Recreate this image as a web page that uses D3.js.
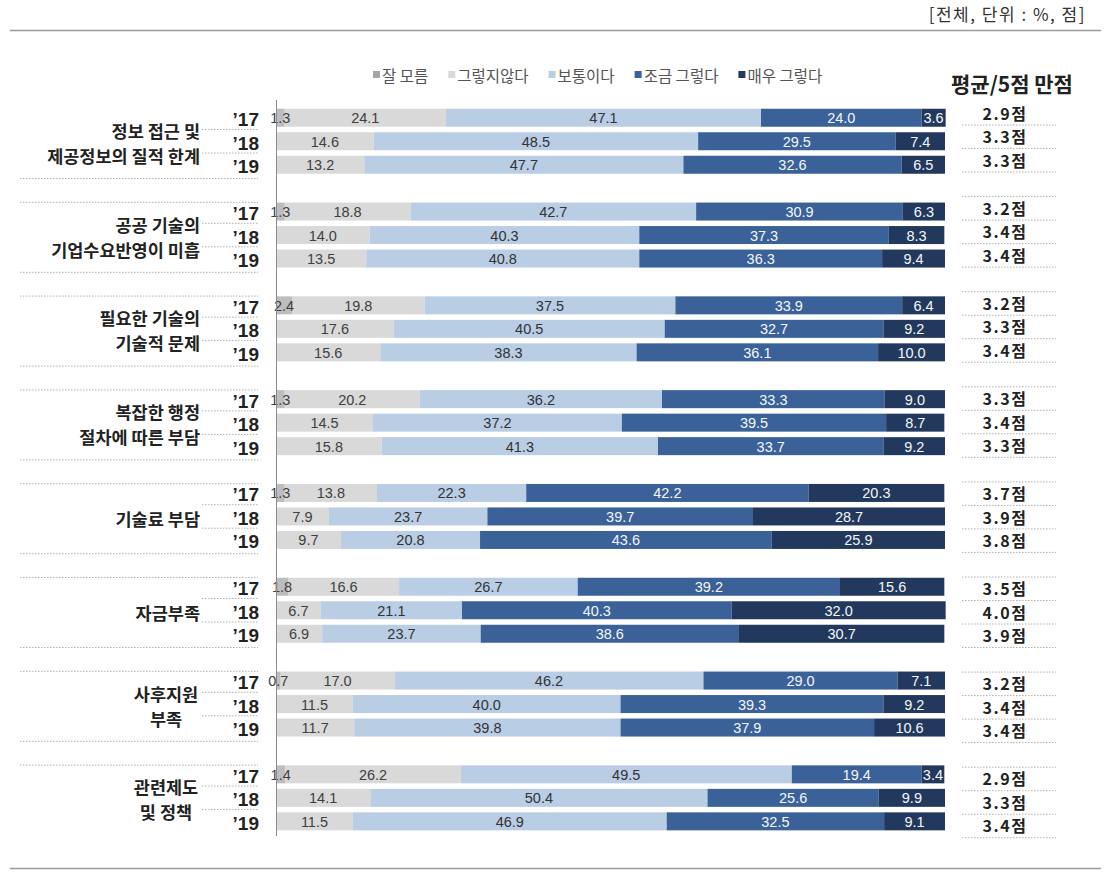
<!DOCTYPE html>
<html><head><meta charset="utf-8">
<script src="https://cdn.jsdelivr.net/npm/d3@7"></script>
<style>
body{margin:0;background:#fff;}
svg{display:block;}
</style></head>
<body><svg id="c" width="1109" height="879"></svg>
<script>
const categories = ["정보 접근 및\n제공정보의 질적 한계","공공 기술의\n기업수요반영이 미흡","필요한 기술의\n기술적 문제","복잡한 행정\n절차에 따른 부담","기술료 부담","자금부족","사후지원\n부족","관련제도\n및 정책"];
const years = ["’17","’18","’19"];
const seriesNames = ["잘 모름","그렇지않다","보통이다","조금 그렇다","매우 그렇다"];
const dontKnow = [[1.3,0,0],[1.3,0,0],[2.4,0,0],[1.3,0,0],[1.3,0,0],[1.8,0,0],[0.7,0,0],[1.4,0,0]];
const disagree = [[24.1,14.6,13.2],[18.8,14.0,13.5],[19.8,17.6,15.6],[20.2,14.5,15.8],[13.8,7.9,9.7],[16.6,6.7,6.9],[17.0,11.5,11.7],[26.2,14.1,11.5]];
const neutral = [[47.1,48.5,47.7],[42.7,40.3,40.8],[37.5,40.5,38.3],[36.2,37.2,41.3],[22.3,23.7,20.8],[26.7,21.1,23.7],[46.2,40.0,39.8],[49.5,50.4,46.9]];
const somewhat = [[24.0,29.5,32.6],[30.9,37.3,36.3],[33.9,32.7,36.1],[33.3,39.5,33.7],[42.2,39.7,43.6],[39.2,40.3,38.6],[29.0,39.3,37.9],[19.4,25.6,32.5]];
const very = [[3.6,7.4,6.5],[6.3,8.3,9.4],[6.4,9.2,10.0],[9.0,8.7,9.2],[20.3,28.7,25.9],[15.6,32.0,30.7],[7.1,9.2,10.6],[3.4,9.9,9.1]];
const scores = [[2.9,3.3,3.3],[3.2,3.4,3.4],[3.2,3.3,3.4],[3.3,3.4,3.3],[3.7,3.9,3.8],[3.5,4.0,3.9],[3.2,3.4,3.4],[2.9,3.3,3.4]];
const unitText = "[전체, 단위 : %, 점]";
const scoreHeader = "평균/5점 만점";

const seriesData = [dontKnow, disagree, neutral, somewhat, very];
const colors = ["#bdbdbd","#d9d9d9","#b9cde5","#3a6198","#22395d"];
const textColors = ["#404040","#404040","#333","#f4f6fa","#f4f6fa"];
const centered = new Set([6,7]);

const svg = d3.select("#c");
const KR = "'Noto Sans CJK KR','Noto Sans',sans-serif";
const AR = "'Liberation Sans',Arial,sans-serif";

const rows = [];
categories.forEach((c,gi)=>years.forEach((y,yi)=>{
  const r = {cat:c, gi, year:y, yi, score:scores[gi][yi]};
  seriesNames.forEach((s,si)=>r[s]=seriesData[si][gi][yi]);
  rows.push(r);
}));
const stacked = d3.stack().keys(seriesNames)(rows);

const x = d3.scaleLinear().domain([0,100]).range([276,945]);
const outer = d3.scaleBand().domain(categories).range([106,106+8*93.8]);
const inner = d3.scaleBand().domain(years).range([0,70.5]).paddingInner(0.234).paddingOuter(0.117);
const outerR = d3.scaleBand().domain(categories).range([101,101+8*95.1]);
const rowTop = d=>outer(d.cat)+inner(d.year);
const bw = inner.bandwidth();

svg.append("line").attr("x1",10).attr("x2",1101).attr("y1",30.5).attr("y2",30.5).attr("stroke","#9a9a9a").attr("stroke-width",1.5);
svg.append("line").attr("x1",10).attr("x2",1101).attr("y1",868.5).attr("y2",868.5).attr("stroke","#9a9a9a").attr("stroke-width",1.5);
svg.append("text").attr("x",1086).attr("y",13).attr("text-anchor","end").attr("dominant-baseline","central")
  .attr("font-family",KR).attr("font-size",17).attr("letter-spacing",1.5).attr("fill","#333").text(unitText);

const dot = svg.append("g").attr("stroke","#b0b0b0").attr("stroke-width",1).attr("stroke-dasharray","1.5,1.5");
categories.forEach((c,gi)=>{
  const o = outer(c);
  if(gi>0) dot.append("line").attr("x1",20).attr("x2",258).attr("y1",o+2.5).attr("y2",o+2.5);
  if(gi<categories.length-1) dot.append("line").attr("x1",20).attr("x2",258).attr("y1",o+72.5).attr("y2",o+72.5);
  [1,2].forEach(k=>{
    const yy = o+inner.step()*k+inner.paddingOuter()*inner.step()-inner.paddingInner()*inner.step()/2;
    dot.append("line").attr("x1",202).attr("x2",258).attr("y1",yy).attr("y2",yy);
  });
  const oR = outerR(c);
  if(gi>0) dot.append("line").attr("x1",962).attr("x2",1056).attr("y1",oR+0.5).attr("y2",oR+0.5);
  [1,2,3].forEach(k=>{
    const yy = oR+inner.step()*k+0.5;
    dot.append("line").attr("x1",962).attr("x2",1056).attr("y1",yy).attr("y2",yy);
  });
});

const layer = svg.append("g").selectAll("g").data(stacked).join("g").attr("fill",(d,i)=>colors[i]);
layer.selectAll("rect").data(d=>d).join("rect")
  .attr("x",d=>x(d[0])).attr("width",d=>Math.max(0,x(d[1])-x(d[0])))
  .attr("y",d=>rowTop(d.data)).attr("height",bw);

const lab = svg.append("g").attr("font-family",AR).attr("font-size",14.5).attr("text-anchor","middle");
stacked.forEach((s,si)=>{
  lab.selectAll(null).data(s.filter(d=>d[1]-d[0]>0)).join("text")
    .attr("x",d=>(x(d[0])+x(d[1]))/2).attr("y",d=>rowTop(d.data)+bw/2+0.5)
    .attr("dominant-baseline","central").attr("fill",textColors[si])
    .text(d=>d3.format(".1f")(d[1]-d[0]));
});

svg.append("line").attr("x1",276.5).attr("x2",276.5).attr("y1",100).attr("y2",836).attr("stroke","#8c8c8c").attr("stroke-width",1);

svg.append("g").selectAll("text").data(rows).join("text")
  .attr("x",259).attr("y",d=>rowTop(d)+bw/2+2).attr("text-anchor","end").attr("dominant-baseline","central")
  .attr("font-family",AR).attr("font-weight","bold").attr("font-size",19).attr("fill","#222").text(d=>d.year);

categories.forEach((c,gi)=>{
  const lines = c.split("\n");
  const mid = outer(c)+inner(years[1])+bw/2;
  const ys = lines.length===2 ? [mid-11, mid+14] : [mid+2];
  lines.forEach((ln,li)=>{
    svg.append("text").attr("x",centered.has(gi)?166:200).attr("y",ys[li])
      .attr("text-anchor",centered.has(gi)?"middle":"end").attr("dominant-baseline","central")
      .attr("font-family",KR).attr("font-weight","bold").attr("font-size",17.5).attr("fill","#222").text(ln);
  });
});

svg.append("text").attr("x",1012).attr("y",83).attr("text-anchor","middle").attr("dominant-baseline","central")
  .attr("font-family",KR).attr("font-weight","bold").attr("font-size",21).attr("fill","#222").text(scoreHeader);
svg.append("g").selectAll("text").data(rows).join("text")
  .attr("x",1005).attr("y",d=>outerR(d.cat)+inner.step()*d.yi+inner.step()/2).attr("text-anchor","middle").attr("dominant-baseline","central")
  .attr("font-family",KR).attr("font-weight","bold").attr("font-size",16).attr("letter-spacing",1.5).attr("fill","#222")
  .text(d=>d3.format(".1f")(d.score)+"점");

const leg = svg.append("g");
let lx = 373;
seriesNames.forEach((s,i)=>{
  leg.append("rect").attr("x",lx).attr("y",71).attr("width",7).attr("height",7).attr("fill",i===0?"#a6a6a6":colors[i]);
  const t = leg.append("text").attr("x",lx+9).attr("y",75).attr("dominant-baseline","central")
    .attr("font-family",KR).attr("font-size",15.5).attr("fill","#555").text(s);
  lx += 9 + t.node().getComputedTextLength() + 20;
});
</script></body></html>
